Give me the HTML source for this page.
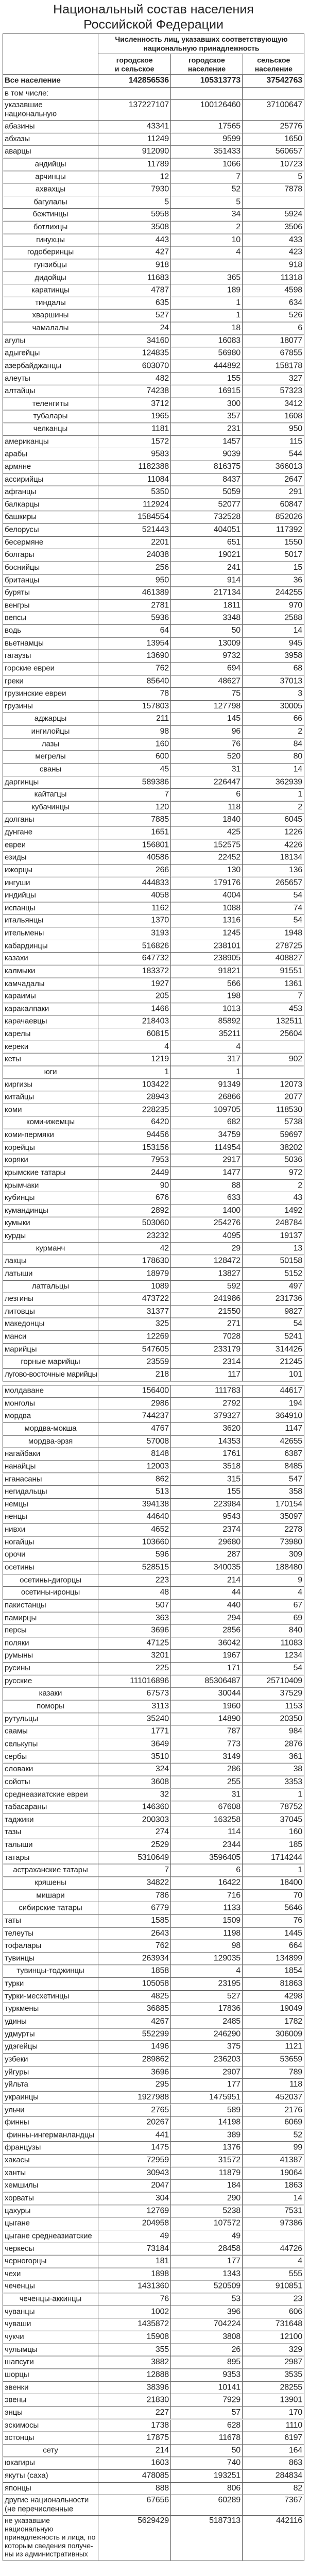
<!DOCTYPE html>
<html lang="ru"><head><meta charset="utf-8">
<style>
html{margin:0;padding:0;width:600px;height:5214px;overflow:hidden;background:#fff;}
body{margin:0;padding:0;width:600px;height:5214px;position:relative;overflow:hidden;font-family:"Liberation Sans Narrow","Liberation Sans",sans-serif;color:#222;background:#fff;}
.wrap{position:absolute;left:0;top:0;width:600px;height:5214px;transform:scaleY(0.955);transform-origin:0 0;}
.t{position:absolute;left:5px;width:586px;text-align:center;font-family:"Liberation Sans",sans-serif;font-size:25px;line-height:30px;color:#222;}
.tb{position:absolute;left:5px;width:586px;box-shadow:inset 1px 0 0 #444,inset -1px 0 0 #444,inset 0 1px 0 #444;overflow:hidden;}
.g{display:grid;overflow:hidden;}
.r{display:flex;border-bottom:1px solid #555;box-sizing:border-box;font-size:16px;min-height:0;height:100%;overflow:hidden;}
.a{position:absolute;left:5px;width:586px;height:25.64px;}
.r span{box-sizing:border-box;border-left:1px solid #555;text-align:right;padding-right:3px;line-height:24px;letter-spacing:-0.2px;overflow:hidden;white-space:nowrap;height:100%;}
.r span:nth-child(1){width:185px;border-left:1px solid #444;text-align:left;padding-left:3px;letter-spacing:-0.1px;font-size:15px;}
.r span:nth-child(2){width:141px;}
.r span:nth-child(3){width:139px;}
.r span:nth-child(4){width:121px;border-right:1px solid #444;}
.r.s span:nth-child(1){text-align:center;}
.r.d span{line-height:18px;padding-top:2px;white-space:normal;}
.r.big span{line-height:17px;padding-top:2px;white-space:normal;}
.r.big span:nth-child(1){font-size:14px;}
.b{font-weight:bold;}
.hd{font-weight:bold;font-size:14px;text-align:center;line-height:18px;overflow:hidden;}
</style></head><body><div class="wrap">
<div class="t" style="top:4px">Национальный состав населения</div>
<div class="t" style="top:35px">Российской Федерации</div>

<div class="tb" style="top:68px;height:2740px">
<div style="display:flex;height:84px;border-bottom:1px solid #555;box-sizing:border-box;overflow:hidden;">
<div style="width:185px;"></div>
<div style="width:401px;border-left:1px solid #555;box-sizing:border-box;">
<div class="hd" style="height:42px;border-bottom:1px solid #555;box-sizing:border-box;padding-top:3px;">Численность лиц, указавших соответствующую<br>национальную принадлежность</div>
<div style="display:flex;height:41px;">
<div class="hd" style="width:141px;padding-top:3px;">городское<br>и сельское население</div>
<div class="hd" style="width:139px;border-left:1px solid #555;padding-top:3px;">городское<br>население</div>
<div class="hd" style="width:120px;border-left:1px solid #555;padding-top:3px;">сельское<br>население</div>
</div></div></div>
<div class="g" style="height:2656px;grid-template-rows:26px 25px 42px repeat(100,25.63px);">
<div class="r b"><span>Все население</span><span>142856536</span><span>105313773</span><span>37542763</span></div>
<div class="r"><span>в том числе:</span><span></span><span></span><span></span></div>
<div class="r d"><span>указавшие национальную принадлежность</span><span>137227107</span><span>100126460</span><span>37100647</span></div>
<div class="r"><span>абазины</span><span>43341</span><span>17565</span><span>25776</span></div>
<div class="r"><span>абхазы</span><span>11249</span><span>9599</span><span>1650</span></div>
<div class="r"><span>аварцы</span><span>912090</span><span>351433</span><span>560657</span></div>
<div class="r s"><span>андийцы</span><span>11789</span><span>1066</span><span>10723</span></div>
<div class="r s"><span>арчинцы</span><span>12</span><span>7</span><span>5</span></div>
<div class="r s"><span>ахвахцы</span><span>7930</span><span>52</span><span>7878</span></div>
<div class="r s"><span>багулалы</span><span>5</span><span>5</span><span></span></div>
<div class="r s"><span>бежтинцы</span><span>5958</span><span>34</span><span>5924</span></div>
<div class="r s"><span>ботлихцы</span><span>3508</span><span>2</span><span>3506</span></div>
<div class="r s"><span>гинухцы</span><span>443</span><span>10</span><span>433</span></div>
<div class="r s"><span>годоберинцы</span><span>427</span><span>4</span><span>423</span></div>
<div class="r s"><span>гунзибцы</span><span>918</span><span></span><span>918</span></div>
<div class="r s"><span>дидойцы</span><span>11683</span><span>365</span><span>11318</span></div>
<div class="r s"><span>каратинцы</span><span>4787</span><span>189</span><span>4598</span></div>
<div class="r s"><span>тиндалы</span><span>635</span><span>1</span><span>634</span></div>
<div class="r s"><span>хваршины</span><span>527</span><span>1</span><span>526</span></div>
<div class="r s"><span>чамалалы</span><span>24</span><span>18</span><span>6</span></div>
<div class="r"><span>агулы</span><span>34160</span><span>16083</span><span>18077</span></div>
<div class="r"><span>адыгейцы</span><span>124835</span><span>56980</span><span>67855</span></div>
<div class="r"><span>азербайджанцы</span><span>603070</span><span>444892</span><span>158178</span></div>
<div class="r"><span>алеуты</span><span>482</span><span>155</span><span>327</span></div>
<div class="r"><span>алтайцы</span><span>74238</span><span>16915</span><span>57323</span></div>
<div class="r s"><span>теленгиты</span><span>3712</span><span>300</span><span>3412</span></div>
<div class="r s"><span>тубалары</span><span>1965</span><span>357</span><span>1608</span></div>
<div class="r s"><span>челканцы</span><span>1181</span><span>231</span><span>950</span></div>
<div class="r"><span>американцы</span><span>1572</span><span>1457</span><span>115</span></div>
<div class="r"><span>арабы</span><span>9583</span><span>9039</span><span>544</span></div>
<div class="r"><span>армяне</span><span>1182388</span><span>816375</span><span>366013</span></div>
<div class="r"><span>ассирийцы</span><span>11084</span><span>8437</span><span>2647</span></div>
<div class="r"><span>афганцы</span><span>5350</span><span>5059</span><span>291</span></div>
<div class="r"><span>балкарцы</span><span>112924</span><span>52077</span><span>60847</span></div>
<div class="r"><span>башкиры</span><span>1584554</span><span>732528</span><span>852026</span></div>
<div class="r"><span>белорусы</span><span>521443</span><span>404051</span><span>117392</span></div>
<div class="r"><span>бесермяне</span><span>2201</span><span>651</span><span>1550</span></div>
<div class="r"><span>болгары</span><span>24038</span><span>19021</span><span>5017</span></div>
<div class="r"><span>боснийцы</span><span>256</span><span>241</span><span>15</span></div>
<div class="r"><span>британцы</span><span>950</span><span>914</span><span>36</span></div>
<div class="r"><span>буряты</span><span>461389</span><span>217134</span><span>244255</span></div>
<div class="r"><span>венгры</span><span>2781</span><span>1811</span><span>970</span></div>
<div class="r"><span>вепсы</span><span>5936</span><span>3348</span><span>2588</span></div>
<div class="r"><span>водь</span><span>64</span><span>50</span><span>14</span></div>
<div class="r"><span>вьетнамцы</span><span>13954</span><span>13009</span><span>945</span></div>
<div class="r"><span>гагаузы</span><span>13690</span><span>9732</span><span>3958</span></div>
<div class="r"><span>горские евреи</span><span>762</span><span>694</span><span>68</span></div>
<div class="r"><span>греки</span><span>85640</span><span>48627</span><span>37013</span></div>
<div class="r"><span>грузинские евреи</span><span>78</span><span>75</span><span>3</span></div>
<div class="r"><span>грузины</span><span>157803</span><span>127798</span><span>30005</span></div>
<div class="r s"><span>аджарцы</span><span>211</span><span>145</span><span>66</span></div>
<div class="r s"><span>ингилойцы</span><span>98</span><span>96</span><span>2</span></div>
<div class="r s"><span>лазы</span><span>160</span><span>76</span><span>84</span></div>
<div class="r s"><span>мегрелы</span><span>600</span><span>520</span><span>80</span></div>
<div class="r s"><span>сваны</span><span>45</span><span>31</span><span>14</span></div>
<div class="r"><span>даргинцы</span><span>589386</span><span>226447</span><span>362939</span></div>
<div class="r s"><span>кайтагцы</span><span>7</span><span>6</span><span>1</span></div>
<div class="r s"><span>кубачинцы</span><span>120</span><span>118</span><span>2</span></div>
<div class="r"><span>долганы</span><span>7885</span><span>1840</span><span>6045</span></div>
<div class="r"><span>дунгане</span><span>1651</span><span>425</span><span>1226</span></div>
<div class="r"><span>евреи</span><span>156801</span><span>152575</span><span>4226</span></div>
<div class="r"><span>езиды</span><span>40586</span><span>22452</span><span>18134</span></div>
<div class="r"><span>ижорцы</span><span>266</span><span>130</span><span>136</span></div>
<div class="r"><span>ингуши</span><span>444833</span><span>179176</span><span>265657</span></div>
<div class="r"><span>индийцы</span><span>4058</span><span>4004</span><span>54</span></div>
<div class="r"><span>испанцы</span><span>1162</span><span>1088</span><span>74</span></div>
<div class="r"><span>итальянцы</span><span>1370</span><span>1316</span><span>54</span></div>
<div class="r"><span>ительмены</span><span>3193</span><span>1245</span><span>1948</span></div>
<div class="r"><span>кабардинцы</span><span>516826</span><span>238101</span><span>278725</span></div>
<div class="r"><span>казахи</span><span>647732</span><span>238905</span><span>408827</span></div>
<div class="r"><span>калмыки</span><span>183372</span><span>91821</span><span>91551</span></div>
<div class="r"><span>камчадалы</span><span>1927</span><span>566</span><span>1361</span></div>
<div class="r"><span>караимы</span><span>205</span><span>198</span><span>7</span></div>
<div class="r"><span>каракалпаки</span><span>1466</span><span>1013</span><span>453</span></div>
<div class="r"><span>карачаевцы</span><span>218403</span><span>85892</span><span>132511</span></div>
<div class="r"><span>карелы</span><span>60815</span><span>35211</span><span>25604</span></div>
<div class="r"><span>кереки</span><span>4</span><span>4</span><span></span></div>
<div class="r"><span>кеты</span><span>1219</span><span>317</span><span>902</span></div>
<div class="r s"><span>юги</span><span>1</span><span>1</span><span></span></div>
<div class="r"><span>киргизы</span><span>103422</span><span>91349</span><span>12073</span></div>
<div class="r"><span>китайцы</span><span>28943</span><span>26866</span><span>2077</span></div>
<div class="r"><span>коми</span><span>228235</span><span>109705</span><span>118530</span></div>
<div class="r s"><span>коми-ижемцы</span><span>6420</span><span>682</span><span>5738</span></div>
<div class="r"><span>коми-пермяки</span><span>94456</span><span>34759</span><span>59697</span></div>
<div class="r"><span>корейцы</span><span>153156</span><span>114954</span><span>38202</span></div>
<div class="r"><span>коряки</span><span>7953</span><span>2917</span><span>5036</span></div>
<div class="r"><span>крымские татары</span><span>2449</span><span>1477</span><span>972</span></div>
<div class="r"><span>крымчаки</span><span>90</span><span>88</span><span>2</span></div>
<div class="r"><span>кубинцы</span><span>676</span><span>633</span><span>43</span></div>
<div class="r"><span>кумандинцы</span><span>2892</span><span>1400</span><span>1492</span></div>
<div class="r"><span>кумыки</span><span>503060</span><span>254276</span><span>248784</span></div>
<div class="r"><span>курды</span><span>23232</span><span>4095</span><span>19137</span></div>
<div class="r s"><span>курманч</span><span>42</span><span>29</span><span>13</span></div>
<div class="r"><span>лакцы</span><span>178630</span><span>128472</span><span>50158</span></div>
<div class="r"><span>латыши</span><span>18979</span><span>13827</span><span>5152</span></div>
<div class="r s"><span>латгальцы</span><span>1089</span><span>592</span><span>497</span></div>
<div class="r"><span>лезгины</span><span>473722</span><span>241986</span><span>231736</span></div>
<div class="r"><span>литовцы</span><span>31377</span><span>21550</span><span>9827</span></div>
<div class="r"><span>македонцы</span><span>325</span><span>271</span><span>54</span></div>
<div class="r"><span>манси</span><span>12269</span><span>7028</span><span>5241</span></div>
<div class="r"><span>марийцы</span><span>547605</span><span>233179</span><span>314426</span></div>
<div class="r s"><span>горные марийцы</span><span>23559</span><span>2314</span><span>21245</span></div>
<div class="r s"><span style="letter-spacing:-0.5px">лугово-восточные марийцы</span><span>218</span><span>117</span><span>101</span></div>
</div>
</div>

<div style="position:absolute;left:5px;top:2815px;width:586px;height:2390px;border-top:1px solid #444;box-sizing:border-box;"></div>
<div class="r a" style="top:2815px"><span>молдаване</span><span>156400</span><span>111783</span><span>44617</span></div>
<div class="r a" style="top:2840.6px"><span>монголы</span><span>2986</span><span>2792</span><span>194</span></div>
<div class="r a" style="top:2866.3px"><span>мордва</span><span>744237</span><span>379327</span><span>364910</span></div>
<div class="r a s" style="top:2891.9px"><span>мордва-мокша</span><span>4767</span><span>3620</span><span>1147</span></div>
<div class="r a s" style="top:2917.6px"><span>мордва-эрзя</span><span>57008</span><span>14353</span><span>42655</span></div>
<div class="r a" style="top:2943.2px"><span>нагайбаки</span><span>8148</span><span>1761</span><span>6387</span></div>
<div class="r a" style="top:2968.8px"><span>нанайцы</span><span>12003</span><span>3518</span><span>8485</span></div>
<div class="r a" style="top:2994.5px"><span>нганасаны</span><span>862</span><span>315</span><span>547</span></div>
<div class="r a" style="top:3020.1px"><span>негидальцы</span><span>513</span><span>155</span><span>358</span></div>
<div class="r a" style="top:3045.8px"><span>немцы</span><span>394138</span><span>223984</span><span>170154</span></div>
<div class="r a" style="top:3071.4px"><span>ненцы</span><span>44640</span><span>9543</span><span>35097</span></div>
<div class="r a" style="top:3097px"><span>нивхи</span><span>4652</span><span>2374</span><span>2278</span></div>
<div class="r a" style="top:3122.7px"><span>ногайцы</span><span>103660</span><span>29680</span><span>73980</span></div>
<div class="r a" style="top:3148.3px"><span>орочи</span><span>596</span><span>287</span><span>309</span></div>
<div class="r a" style="top:3174px"><span>осетины</span><span>528515</span><span>340035</span><span>188480</span></div>
<div class="r a s" style="top:3199.6px"><span>осетины-дигорцы</span><span>223</span><span>214</span><span>9</span></div>
<div class="r a s" style="top:3225.2px"><span>осетины-иронцы</span><span>48</span><span>44</span><span>4</span></div>
<div class="r a" style="top:3250.9px"><span>пакистанцы</span><span>507</span><span>440</span><span>67</span></div>
<div class="r a" style="top:3276.5px"><span>памирцы</span><span>363</span><span>294</span><span>69</span></div>
<div class="r a" style="top:3302.2px"><span>персы</span><span>3696</span><span>2856</span><span>840</span></div>
<div class="r a" style="top:3327.8px"><span>поляки</span><span>47125</span><span>36042</span><span>11083</span></div>
<div class="r a" style="top:3353.4px"><span>румыны</span><span>3201</span><span>1967</span><span>1234</span></div>
<div class="r a" style="top:3379.1px"><span>русины</span><span>225</span><span>171</span><span>54</span></div>
<div class="r a" style="top:3404.7px"><span>русские</span><span>111016896</span><span>85306487</span><span>25710409</span></div>
<div class="r a s" style="top:3430.4px"><span>казаки</span><span>67573</span><span>30044</span><span>37529</span></div>
<div class="r a s" style="top:3456px"><span>поморы</span><span>3113</span><span>1960</span><span>1153</span></div>
<div class="r a" style="top:3481.6px"><span>рутульцы</span><span>35240</span><span>14890</span><span>20350</span></div>
<div class="r a" style="top:3507.3px"><span>саамы</span><span>1771</span><span>787</span><span>984</span></div>
<div class="r a" style="top:3532.9px"><span>селькупы</span><span>3649</span><span>773</span><span>2876</span></div>
<div class="r a" style="top:3558.6px"><span>сербы</span><span>3510</span><span>3149</span><span>361</span></div>
<div class="r a" style="top:3584.2px"><span>словаки</span><span>324</span><span>286</span><span>38</span></div>
<div class="r a" style="top:3609.8px"><span>сойоты</span><span>3608</span><span>255</span><span>3353</span></div>
<div class="r a" style="top:3635.5px"><span>среднеазиатские евреи</span><span>32</span><span>31</span><span>1</span></div>
<div class="r a" style="top:3661.1px"><span>табасараны</span><span>146360</span><span>67608</span><span>78752</span></div>
<div class="r a" style="top:3686.8px"><span>таджики</span><span>200303</span><span>163258</span><span>37045</span></div>
<div class="r a" style="top:3712.4px"><span>тазы</span><span>274</span><span>114</span><span>160</span></div>
<div class="r a" style="top:3738px"><span>талыши</span><span>2529</span><span>2344</span><span>185</span></div>
<div class="r a" style="top:3763.7px"><span>татары</span><span>5310649</span><span>3596405</span><span>1714244</span></div>
<div class="r a s" style="top:3789.3px"><span>астраханские татары</span><span>7</span><span>6</span><span>1</span></div>
<div class="r a s" style="top:3815px"><span>кряшены</span><span>34822</span><span>16422</span><span>18400</span></div>
<div class="r a s" style="top:3840.6px"><span>мишари</span><span>786</span><span>716</span><span>70</span></div>
<div class="r a s" style="top:3866.2px"><span>сибирские татары</span><span>6779</span><span>1133</span><span>5646</span></div>
<div class="r a" style="top:3891.9px"><span>таты</span><span>1585</span><span>1509</span><span>76</span></div>
<div class="r a" style="top:3917.5px"><span>телеуты</span><span>2643</span><span>1198</span><span>1445</span></div>
<div class="r a" style="top:3943.2px"><span>тофалары</span><span>762</span><span>98</span><span>664</span></div>
<div class="r a" style="top:3968.8px"><span>тувинцы</span><span>263934</span><span>129035</span><span>134899</span></div>
<div class="r a s" style="top:3994.4px"><span>тувинцы-тоджинцы</span><span>1858</span><span>4</span><span>1854</span></div>
<div class="r a" style="top:4020.1px"><span>турки</span><span>105058</span><span>23195</span><span>81863</span></div>
<div class="r a" style="top:4045.7px"><span>турки-месхетинцы</span><span>4825</span><span>527</span><span>4298</span></div>
<div class="r a" style="top:4071.4px"><span>туркмены</span><span>36885</span><span>17836</span><span>19049</span></div>
<div class="r a" style="top:4097px"><span>удины</span><span>4267</span><span>2485</span><span>1782</span></div>
<div class="r a" style="top:4122.6px"><span>удмурты</span><span>552299</span><span>246290</span><span>306009</span></div>
<div class="r a" style="top:4148.3px"><span>удэгейцы</span><span>1496</span><span>375</span><span>1121</span></div>
<div class="r a" style="top:4173.9px"><span>узбеки</span><span>289862</span><span>236203</span><span>53659</span></div>
<div class="r a" style="top:4199.6px"><span>уйгуры</span><span>3696</span><span>2907</span><span>789</span></div>
<div class="r a" style="top:4225.2px"><span>уйльта</span><span>295</span><span>177</span><span>118</span></div>
<div class="r a" style="top:4250.8px"><span>украинцы</span><span>1927988</span><span>1475951</span><span>452037</span></div>
<div class="r a" style="top:4276.5px"><span>ульчи</span><span>2765</span><span>589</span><span>2176</span></div>
<div class="r a" style="top:4302.1px"><span>финны</span><span>20267</span><span>14198</span><span>6069</span></div>
<div class="r a s" style="top:4327.8px"><span>финны-ингерманландцы</span><span>441</span><span>389</span><span>52</span></div>
<div class="r a" style="top:4353.4px"><span>французы</span><span>1475</span><span>1376</span><span>99</span></div>
<div class="r a" style="top:4379px"><span>хакасы</span><span>72959</span><span>31572</span><span>41387</span></div>
<div class="r a" style="top:4404.7px"><span>ханты</span><span>30943</span><span>11879</span><span>19064</span></div>
<div class="r a" style="top:4430.3px"><span>хемшилы</span><span>2047</span><span>184</span><span>1863</span></div>
<div class="r a" style="top:4456px"><span>хорваты</span><span>304</span><span>290</span><span>14</span></div>
<div class="r a" style="top:4481.6px"><span>цахуры</span><span>12769</span><span>5238</span><span>7531</span></div>
<div class="r a" style="top:4507.2px"><span>цыгане</span><span>204958</span><span>107572</span><span>97386</span></div>
<div class="r a" style="top:4532.9px"><span>цыгане среднеазиатские</span><span>49</span><span>49</span><span></span></div>
<div class="r a" style="top:4558.5px"><span>черкесы</span><span>73184</span><span>28458</span><span>44726</span></div>
<div class="r a" style="top:4584.2px"><span>черногорцы</span><span>181</span><span>177</span><span>4</span></div>
<div class="r a" style="top:4609.8px"><span>чехи</span><span>1898</span><span>1343</span><span>555</span></div>
<div class="r a" style="top:4635.4px"><span>чеченцы</span><span>1431360</span><span>520509</span><span>910851</span></div>
<div class="r a s" style="top:4661.1px"><span>чеченцы-аккинцы</span><span>76</span><span>53</span><span>23</span></div>
<div class="r a" style="top:4686.7px"><span>чуванцы</span><span>1002</span><span>396</span><span>606</span></div>
<div class="r a" style="top:4712.4px"><span>чуваши</span><span>1435872</span><span>704224</span><span>731648</span></div>
<div class="r a" style="top:4738px"><span>чукчи</span><span>15908</span><span>3808</span><span>12100</span></div>
<div class="r a" style="top:4763.6px"><span>чулымцы</span><span>355</span><span>26</span><span>329</span></div>
<div class="r a" style="top:4789.3px"><span>шапсуги</span><span>3882</span><span>895</span><span>2987</span></div>
<div class="r a" style="top:4814.9px"><span>шорцы</span><span>12888</span><span>9353</span><span>3535</span></div>
<div class="r a" style="top:4840.6px"><span>эвенки</span><span>38396</span><span>10141</span><span>28255</span></div>
<div class="r a" style="top:4866.2px"><span>эвены</span><span>21830</span><span>7929</span><span>13901</span></div>
<div class="r a" style="top:4891.8px"><span>энцы</span><span>227</span><span>57</span><span>170</span></div>
<div class="r a" style="top:4917.5px"><span>эскимосы</span><span>1738</span><span>628</span><span>1110</span></div>
<div class="r a" style="top:4943.1px"><span>эстонцы</span><span>17875</span><span>11678</span><span>6197</span></div>
<div class="r a s" style="top:4968.8px"><span>сету</span><span>214</span><span>50</span><span>164</span></div>
<div class="r a" style="top:4994.4px"><span>юкагиры</span><span>1603</span><span>740</span><span>863</span></div>
<div class="r a" style="top:5020px"><span>якуты (саха)</span><span>478085</span><span>193251</span><span>284834</span></div>
<div class="r a" style="top:5045.7px"><span>японцы</span><span>888</span><span>806</span><span>82</span></div>
<div class="r a d" style="top:5071.3px;height:42px"><span>другие национальности (не перечисленные выше)</span><span>67656</span><span>60289</span><span>7367</span></div>
<div class="r a big" style="top:5113px;height:92px"><span>не указавшие национальную принадлежность и лица, по которым сведения получе-ны из административных источников</span><span>5629429</span><span>5187313</span><span>442116</span></div>
</div></body></html>
